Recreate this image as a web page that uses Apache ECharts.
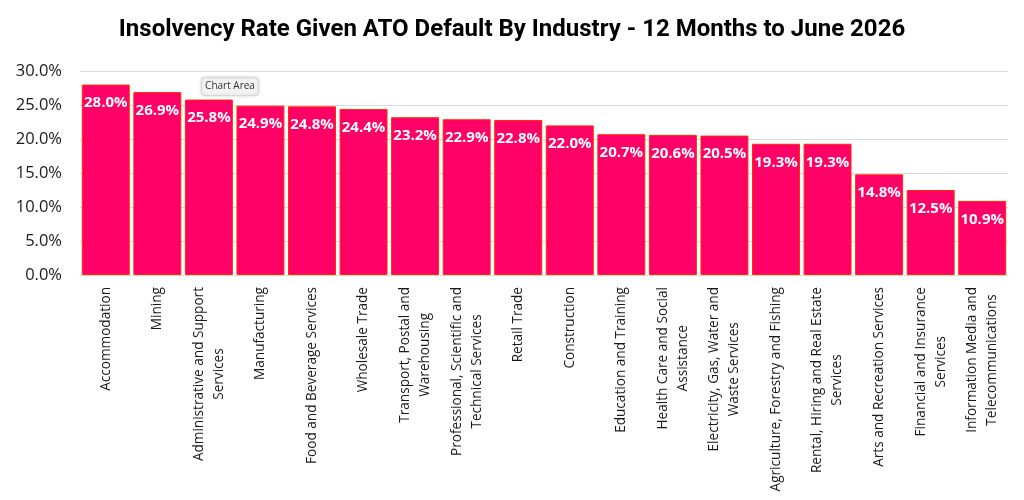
<!DOCTYPE html>
<html>
<head>
<meta charset="utf-8">
<script src="https://cdn.jsdelivr.net/npm/echarts@6/dist/echarts.min.js"></script>
<style>
  html, body { margin: 0; padding: 0; background: #fff; }
  #chart { width: 1024px; height: 500px; }
</style>
</head>
<body>
<div id="chart"></div>
<script>
// industries, in chart order (\n = line break as shown on the axis)
var industries = [
    'Accommodation',
    'Mining',
    'Administrative and Support\nServices',
    'Manufacturing',
    'Food and Beverage Services',
    'Wholesale Trade',
    'Transport, Postal and\nWarehousing',
    'Professional, Scientific and\nTechnical Services',
    'Retail Trade',
    'Construction',
    'Education and Training',
    'Health Care and Social\nAssistance',
    'Electricity, Gas, Water and\nWaste Services',
    'Agriculture, Forestry and Fishing',
    'Rental, Hiring and Real Estate\nServices',
    'Arts and Recreation Services',
    'Financial and Insurance\nServices',
    'Information Media and\nTelecommunications'
];
// insolvency rate (%)
var insolvencyRate = [28.0, 26.9, 25.8, 24.9, 24.8, 24.4, 23.2, 22.9, 22.8, 22.0, 20.7, 20.6, 20.5, 19.3, 19.3, 14.8, 12.5, 10.9];

var barColor = '#ff0066';
var font = '"Open Sans", "Noto Sans", sans-serif';

var chart = echarts.init(document.getElementById('chart'));

chart.setOption({
    backgroundColor: '#fff',
    animation: false,
    title: {
        text: 'Insolvency Rate Given ATO Default By Industry - 12 Months to June 2026',
        left: 'center',
        top: 13,
        textStyle: {
            fontFamily: '"Liberation Sans Narrow", "Roboto", sans-serif',
            fontWeight: 'bold',
            fontSize: 24,
            color: '#000'
        }
    },
    grid: {
        left: 80,
        right: 16,
        top: 71,
        bottom: 225
    },
    xAxis: {
        type: 'category',
        data: industries,
        axisTick: { show: false },
        axisLine: { lineStyle: { color: '#d9d9d9' } },
        axisLabel: {
            interval: 0,
            rotate: 90,
            margin: 12,
            color: '#1a1a1a',
            fontFamily: font,
            fontSize: 13.6,
            lineHeight: 20,
            formatter: function (value) {
                // centre each line inside the label block, like the original
                return value.split('\n').map(function (line) {
                    return '{c|' + line + '}';
                }).join('\n');
            },
            rich: {
                c: {
                    align: 'center',
                    color: '#1a1a1a',
                    fontFamily: font,
                    fontSize: 13.6,
                    lineHeight: 20
                }
            }
        }
    },
    yAxis: {
        type: 'value',
        min: 0,
        max: 30,
        interval: 5,
        axisLine: { show: false },
        axisTick: { show: false },
        splitLine: { lineStyle: { color: '#d9d9d9', width: 1 } },
        axisLabel: {
            margin: 18,
            color: '#1a1a1a',
            fontFamily: font,
            fontSize: 16.5,
            formatter: function (v) { return v.toFixed(1) + '%'; }
        }
    },
    series: [
        {
            name: 'Insolvency rate',
            type: 'bar',
            data: insolvencyRate,
            barCategoryGap: '7%',
            itemStyle: {
                color: barColor,
                borderColor: '#ff2a00',
                borderWidth: 1
            },
            label: {
                show: true,
                position: 'insideTop',
                distance: 11,
                color: '#fff',
                fontFamily: font,
                fontWeight: 'bold',
                fontSize: 15,
                formatter: function (p) { return p.value.toFixed(1) + '%'; }
            }
        }
    ],
    graphic: [
        {
            // the hover tip that was caught in the original screenshot
            type: 'group',
            left: 201,
            top: 77,
            children: [
                {
                    type: 'rect',
                    shape: { x: 0, y: 0, width: 57, height: 18, r: 3 },
                    style: { fill: '#f3f3f3', stroke: '#d6d6d6', lineWidth: 1, shadowBlur: 3, shadowColor: 'rgba(0,0,0,0.15)' }
                },
                {
                    type: 'text',
                    x: 28.5,
                    y: 9,
                    style: {
                        text: 'Chart Area',
                        fill: '#333',
                        font: '10px "Open Sans", sans-serif',
                        align: 'center',
                        verticalAlign: 'middle'
                    }
                }
            ]
        }
    ]
});
</script>
</body>
</html>
